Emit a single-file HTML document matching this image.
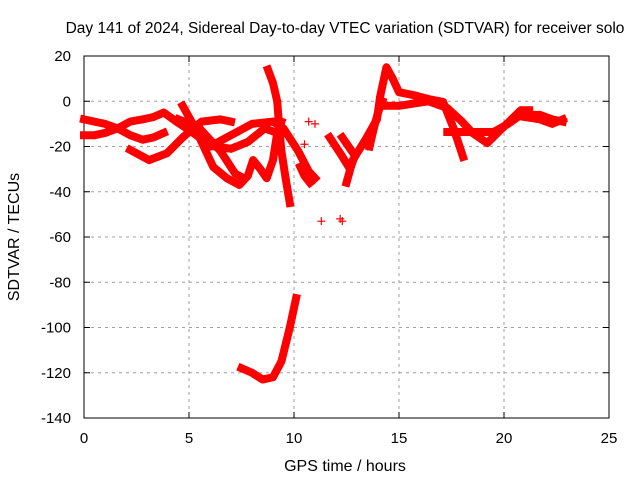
<!DOCTYPE html>
<html><head><meta charset="utf-8"><style>
body{margin:0;background:#fff}
svg{display:block;font-family:"Liberation Sans",sans-serif}
</style></head><body>
<svg id="c" width="640" height="480"></svg>
<script>
const xTicks=[0,5,10,15,20,25];
const yTicks=[20,0,-20,-40,-60,-80,-100,-120,-140];
const trackA=[[0,-8],[0.5,-9],[1,-10],[1.6,-12],[2.2,-15],[2.8,-17],[3.3,-16],[3.8,-14]];
const trackB=[[0,-15],[0.5,-15],[1,-14],[1.6,-12],[2.2,-9],[2.8,-8],[3.3,-7],[3.8,-5],[4.4,-9],[5.05,-13],[5.5,-16],[6.2,-20],[7,-21],[7.8,-18],[8.6,-12],[9.2,-14]];
const trackC=[[2.2,-21.5],[3.1,-26],[3.95,-23],[4.7,-16],[5.2,-12],[5.6,-9],[6.5,-8],[7,-9]];
const trackD=[[4.7,-2],[5.3,-12],[6.15,-29],[6.8,-34],[7.4,-37],[7.8,-33],[8.05,-26],[8.4,-30],[8.7,-34],[9,-26],[9.2,-14],[9.4,-9]];
const trackE=[[4.5,-8],[5.5,-12],[6.5,-22],[7.2,-32],[7.6,-34]];
const trackF=[[6,-20],[7,-15],[8,-10],[9,-9],[9.5,-12],[10.2,-22],[10.7,-31],[11,-34]];
const trackG=[[8.76,14],[9,8],[9.2,0],[9.3,-12],[9.4,-22],[9.6,-34],[9.8,-45]];
const trackH=[[7.5,-118],[8,-120],[8.5,-123],[9,-122],[9.4,-115],[9.8,-100],[10.1,-87]];
const trackI=[[11.7,-16],[12.2,-23],[12.67,-30],[12.9,-24],[12.3,-16]];
const trackJ=[[12.5,-36],[12.8,-26],[13.4,-17],[13.95,-8],[14.1,2],[14.4,15],[14.7,10],[15,4],[15.7,2.7],[16.4,1],[17.1,-0.3],[17.6,-12],[18.05,-24.6]];
const trackK=[[14.3,-2],[15,-2],[15.7,-1],[16.4,0],[17.3,-3],[18,-9],[18.5,-14],[19.2,-18.5],[19.8,-13],[20.8,-4],[21.2,-4]];
const trackL=[[17.3,-13.6],[18.5,-13.6],[19.5,-13.6],[20.2,-10],[20.8,-6],[21.7,-6],[22.3,-8],[22.8,-9]];
const trackM=[[21,-7],[21.7,-8],[22.3,-10],[22.8,-8]];
const trackN=[[10.3,-29],[10.5,-33],[10.76,-36]];
const trackO=[[13.6,-20],[13.8,-12],[14,-5],[14.2,0]];
const singles=[[10.5,-19],[10.7,-9],[11,-10],[11.3,-53],[12.2,-52],[12.3,-53],[13.5,-20]];
const tracks=[trackA,trackB,trackC,trackD,trackE,trackF,trackG,trackH,trackI,trackJ,trackK,trackL,trackM,trackN,trackO];
const L=84,R=609,T=56,B=418;
const X=h=>L+(h-0)/25*(R-L);
const Y=v=>T+(20-v)/160*(B-T);
const ns="http://www.w3.org/2000/svg",svg=document.getElementById('c');
function mk(t,a){const e=document.createElementNS(ns,t);for(const k in a)e.setAttribute(k,a[k]);svg.appendChild(e);return e;}
let e=mk('text',{x:345,y:33,'text-anchor':'middle','font-size':15.5,fill:'#000'});e.textContent='Day 141 of 2024, Sidereal Day-to-day VTEC variation (SDTVAR) for receiver solo';


xTicks.forEach(t=>{const x=X(t);
 if(t>0&&t<25){e=mk('line',{x1:x,y1:T,x2:x,y2:B,stroke:'#a0a0a0','stroke-dasharray':'3,4'});}
 mk('line',{x1:x,y1:B,x2:x,y2:B-6,stroke:'#000'});mk('line',{x1:x,y1:T,x2:x,y2:T+6,stroke:'#000'});
 e=mk('text',{x:x,y:443,'text-anchor':'middle','font-size':15});e.textContent=t;
 
 });
yTicks.forEach(t=>{const y=Y(t);
 if(t<20&&t>-140){e=mk('line',{x1:L,y1:y,x2:R,y2:y,stroke:'#a0a0a0','stroke-dasharray':'3,4'});}
 mk('line',{x1:L,y1:y,x2:L+6,y2:y,stroke:'#000'});mk('line',{x1:R,y1:y,x2:R-6,y2:y,stroke:'#000'});
 e=mk('text',{x:71,y:y+5,'text-anchor':'end','font-size':15});e.textContent=t;
 
 });
e=mk('rect',{x:L,y:T,width:R-L,height:B-T,fill:'none',stroke:'#000'});


e=mk('text',{x:345,y:471,'text-anchor':'middle','font-size':16});e.textContent='GPS time / hours';


e=mk('text',{x:19,y:237,'text-anchor':'middle','font-size':16,transform:'rotate(-90 19 237)'});e.textContent='SDTVAR / TECUs';


function plus(h,v){const x=X(h),y=Y(v);
 const p=mk('path',{d:`M${x-4},${y}h8M${x},${y-4}v8`,stroke:'#f00','stroke-width':1.2});
 
 }
tracks.forEach(tr=>{
 const pl=mk('polyline',{points:tr.map(p=>X(p[0])+','+Y(p[1])).join(' '),fill:'none',stroke:'#f00','stroke-width':8,'stroke-linejoin':'round','stroke-linecap':'square'});
 
 
 tr.forEach(p=>plus(p[0],p[1]));});
singles.forEach(p=>plus(p[0],p[1]));
</script>
</body></html>
